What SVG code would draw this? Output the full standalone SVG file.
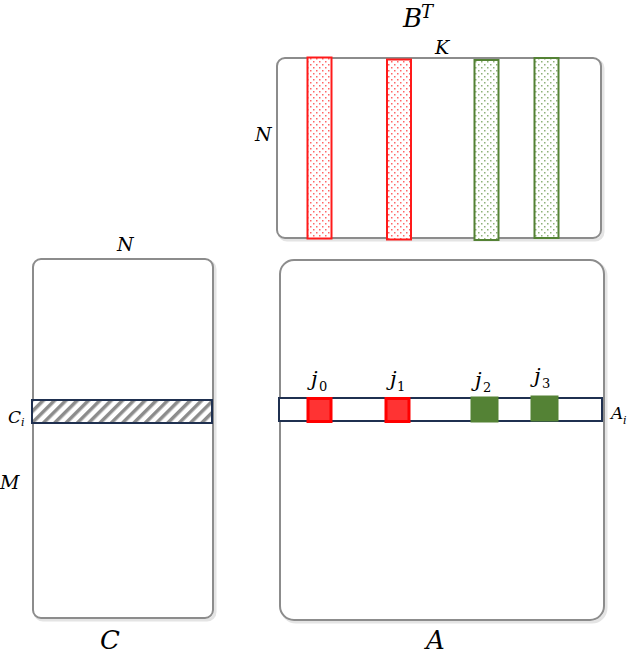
<svg xmlns="http://www.w3.org/2000/svg" width="630" height="654" viewBox="0 0 630 654">
<style>
.box{fill:#fff;stroke:#8c8c8c;stroke-width:2}
.sh{fill:none;stroke:#e4e4e4;stroke-width:3}
.lbl{font-family:"DejaVu Serif","Liberation Serif",serif;font-style:italic;fill:#000}
.sub{font-family:"DejaVu Serif","Liberation Serif",serif;fill:#000}
.red{fill:url(#dotR);stroke:#ff1a1a;stroke-width:2}
.grn{fill:url(#dotG);stroke:#548235;stroke-width:2}
.row{fill:#fff;stroke:#1f3050;stroke-width:2}
.sqR{fill:#ff3333;stroke:#ff0000;stroke-width:3}
.sqG{fill:#548235;stroke:#548235;stroke-width:1}
</style>
<defs>
<pattern id="dotR" width="6" height="6" patternUnits="userSpaceOnUse">
<rect width="6" height="6" fill="#fff"/>
<rect x="1" y="1" width="1.5" height="1.5" fill="#ff6666"/>
<rect x="4" y="4" width="1.5" height="1.5" fill="#ff6666"/>
</pattern>
<pattern id="dotG" width="6" height="6" patternUnits="userSpaceOnUse">
<rect width="6" height="6" fill="#fff"/>
<rect x="1" y="1" width="1.5" height="1.5" fill="#8fb27a"/>
<rect x="4" y="4" width="1.5" height="1.5" fill="#8fb27a"/>
</pattern>
<pattern id="hatch" width="8" height="8" patternUnits="userSpaceOnUse" patternTransform="rotate(45)">
<rect width="8" height="8" fill="#fff"/>
<rect x="0" y="0" width="3.5" height="8" fill="#8c8c8c"/>
</pattern>
</defs>

<g id="BT">
<rect class="sh" x="279" y="60" width="324" height="180" rx="8"/>
<rect class="box" x="277" y="58" width="324" height="180" rx="8"/>
<rect class="red" x="307.5" y="57.5" width="24" height="181"/>
<rect class="red" x="387" y="59.5" width="24" height="180"/>
<rect class="grn" x="474.5" y="60" width="24" height="180"/>
<rect class="grn" x="534.5" y="58" width="24" height="180"/>
<text class="lbl" x="403" y="27" font-size="26">B</text>
<text class="lbl" x="421" y="18" font-size="18">T</text>
<text class="lbl" x="435" y="54" font-size="19">K</text>
<text class="lbl" x="255" y="141" font-size="19">N</text>
</g>

<g id="C">
<rect class="sh" x="35" y="261" width="180" height="359" rx="8"/>
<rect class="box" x="33" y="259" width="180" height="359" rx="8"/>
<rect x="32" y="400" width="180" height="23" fill="url(#hatch)" stroke="#1f3050" stroke-width="2"/>
<text class="lbl" x="117" y="251" font-size="19">N</text>
<text class="lbl" x="0" y="489" font-size="19">M</text>
<text class="lbl" x="8" y="423" font-size="17">C</text>
<text class="lbl" x="21" y="426" font-size="11">i</text>
<text class="lbl" x="100" y="649" font-size="26">C</text>
</g>

<g id="A">
<rect class="sh" x="282" y="262" width="324" height="360" rx="14"/>
<rect class="box" x="280" y="260" width="324" height="360" rx="14"/>
<rect class="row" x="279" y="398" width="323" height="23"/>
<rect class="sqR" x="308" y="398.5" width="23" height="23"/>
<rect class="sqR" x="386" y="398.5" width="23" height="23"/>
<rect class="sqG" x="471" y="397" width="27" height="25"/>
<rect class="sqG" x="531" y="396" width="27" height="25"/>
<text class="lbl" x="311" y="386" font-size="21">j</text>
<text class="sub" x="319" y="391" font-size="13">0</text>
<text class="lbl" x="390" y="386" font-size="21">j</text>
<text class="sub" x="397" y="391" font-size="13">1</text>
<text class="lbl" x="475" y="387" font-size="21">j</text>
<text class="sub" x="483" y="392" font-size="13">2</text>
<text class="lbl" x="534" y="383" font-size="21">j</text>
<text class="sub" x="542" y="388" font-size="13">3</text>
<text class="lbl" x="611" y="419" font-size="17">A</text>
<text class="lbl" x="623" y="424" font-size="11">i</text>
<text class="lbl" x="426" y="649" font-size="26">A</text>
</g>

<g id="connectors"></g>
</svg>
